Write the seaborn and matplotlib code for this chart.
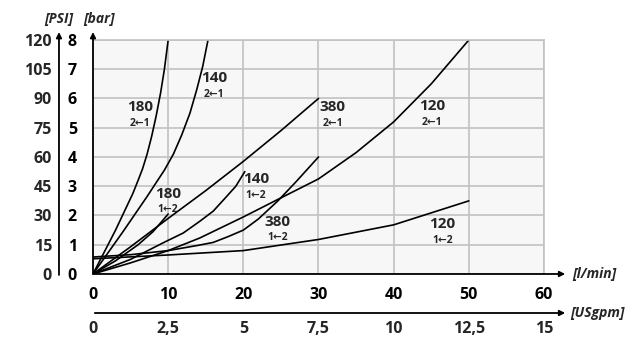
import numpy as np
import pandas as pd
import matplotlib
matplotlib.use('Agg')
import matplotlib.pyplot as plt
import seaborn as sns

sns.set_theme(style="white")
plt.rcParams['font.family'] = ['Open Sans', 'DejaVu Sans']

# ===============================
# Data (x in l/min, y in bar)
# ===============================
x_180_21 = [0, 3, 5.3, 6.0, 6.6, 7.2, 7.8, 8.4, 9.0, 9.5, 10]
y_180_21 = [0, 1.5, 2.75, 3.2, 3.6, 4.1, 4.7, 5.4, 6.2, 7.0, 8.0]

x_140_21 = [0, 4, 7.2, 8.6, 9.5, 10.7, 11.8, 12.9, 13.8, 14.6, 15.3]
y_140_21 = [0, 1.45, 2.65, 3.2, 3.55, 4.1, 4.75, 5.5, 6.3, 7.1, 8.0]

x_380_21 = [0, 5, 10, 15, 20, 25, 30]
y_380_21 = [0, 0.93, 1.9, 2.85, 3.85, 4.9, 6.0]

x_120_21 = [0, 5, 10, 14.2, 20, 24.6, 30, 35, 40, 45, 50]
y_120_21 = [0, 0.38, 0.8, 1.23, 1.95, 2.55, 3.25, 4.15, 5.2, 6.5, 8.0]

x_180_12 = [0, 3, 6, 8, 10]
y_180_12 = [0, 0.45, 1.0, 1.45, 2.05]

x_140_12 = [0, 5, 9.6, 12, 14.2, 16, 17.6, 19, 20.2]
y_140_12 = [0, 0.5, 1.1, 1.4, 1.8, 2.15, 2.6, 3.0, 3.5]

x_380_12 = [0, 5, 10, 14, 16, 18, 20, 22, 24.6, 27, 30]
y_380_12 = [0.58, 0.66, 0.8, 0.98, 1.08, 1.28, 1.5, 1.88, 2.5, 3.15, 4.0]

x_120_12 = [0, 10, 20, 30, 40, 50]
y_120_12 = [0.52, 0.65, 0.8, 1.18, 1.68, 2.5]

# curve labels
label_size = ['180', '140', '380', '120', '180', '140', '380', '120']
label_dir = ['2←1', '2←1', '2←1', '2←1', '1←2', '1←2', '1←2', '1←2']

x_ticks = [0, 10, 20, 30, 40, 50, 60]
bar_ticks = [0, 1, 2, 3, 4, 5, 6, 7, 8]
psi_ticks = [0, 15, 30, 45, 60, 75, 90, 105, 120]
gpm_ticks = [0, 2.5, 5, 7.5, 10, 12.5, 15]
gpm_labels = ['0', '2,5', '5', '7,5', '10', '12,5', '15']

# ===============================
# Build long table
# ===============================
series = [
    ('180 2←1', x_180_21, y_180_21), ('140 2←1', x_140_21, y_140_21),
    ('380 2←1', x_380_21, y_380_21), ('120 2←1', x_120_21, y_120_21),
    ('180 1←2', x_180_12, y_180_12), ('140 1←2', x_140_12, y_140_12),
    ('380 1←2', x_380_12, y_380_12), ('120 1←2', x_120_12, y_120_12),
]
df = pd.concat([pd.DataFrame({'curve': n, 'flow': xs, 'bar': ys}) for n, xs, ys in series],
               ignore_index=True)

# ===============================
# Plot
# ===============================
fig = plt.figure(figsize=(6.4, 3.59), dpi=100)
ax = fig.add_axes([0.1453, 0.2368, 0.7047, 0.6518])
ax.set_facecolor('#f7f7f7')

sns.lineplot(data=df, x='flow', y='bar', hue='curve', units='curve', estimator=None,
             sort=False, palette=['black'] * len(series), linewidth=1.2, legend=False, ax=ax)

ax.set_xlim(0, 60)
ax.set_ylim(0, 8)
ax.set_xticks(x_ticks)
ax.set_yticks(bar_ticks)
ax.set_xlabel('')
ax.set_ylabel('')
ax.grid(True, color='#c2c2c2', linewidth=1.2)
ax.set_axisbelow(True)
ax.tick_params(axis='both', which='major', direction='out', length=3.6, width=1.2,
               color='#c2c2c2', labelsize=11.5, labelcolor='black')
ax.tick_params(axis='x', pad=6)
ax.tick_params(axis='y', pad=8)
for lab in ax.get_xticklabels() + ax.get_yticklabels():
    lab.set_fontweight('bold')
for s in ['left', 'bottom']:
    ax.spines[s].set_visible(False)
for s in ['top', 'right']:
    ax.spines[s].set_color('#c2c2c2')
    ax.spines[s].set_linewidth(1.2)

# secondary PSI axis
psi_pos = -0.0754
sec_y = ax.secondary_yaxis(psi_pos, functions=(lambda b: b * 15, lambda p: p / 15))
sec_y.set_yticks(psi_ticks)
sec_y.tick_params(length=0, pad=5, labelsize=11.5)
for lab in sec_y.get_yticklabels():
    lab.set_fontweight('bold')
for sp in sec_y.spines.values():
    sp.set_visible(False)

# secondary USgpm axis
gpm_pos = -0.1667
sec_x = ax.secondary_xaxis(gpm_pos, functions=(lambda l: l / 4, lambda g: g * 4))
sec_x.set_xticks(gpm_ticks, labels=gpm_labels)
sec_x.tick_params(length=0, pad=6, labelsize=11.5)
for lab in sec_x.get_xticklabels():
    lab.set_fontweight('bold')
for sp in sec_x.spines.values():
    sp.set_visible(False)

# axis arrows
arrow = dict(arrowstyle='-|>', color='black', lw=1.3, mutation_scale=8, shrinkA=0, shrinkB=0)
for start, end in [((0, 0), (1.047, 0)), ((0, 0), (0, 1.034)),
                   ((psi_pos, -0.004), (psi_pos, 1.034)), ((0.004, gpm_pos), (1.047, gpm_pos))]:
    ax.annotate('', xy=end, xytext=start, xycoords='axes fraction',
                arrowprops=arrow, annotation_clip=False)

unit_kw = dict(transform=ax.transAxes, fontsize=10, fontweight='bold', fontstyle='italic',
               va='center', clip_on=False)
ax.text(1.062, 0, '[l/min]', ha='left', **unit_kw)
ax.text(1.058, gpm_pos, '[USgpm]', ha='left', **unit_kw)
ax.text(0.013, 1.09, '[bar]', ha='center', **unit_kw)
ax.text(psi_pos, 1.09, '[PSI]', ha='center', **unit_kw)

# curve labels
label_x = [6.25, 16.1, 31.9, 45.1, 10.0, 21.7, 24.6, 46.5]
label_y = [5.7, 6.7, 5.71, 5.73, 2.75, 3.24, 1.79, 1.70]
for name, d, lx, ly in zip(label_size, label_dir, label_x, label_y):
    ax.text(lx, ly, name, ha='center', va='center', fontsize=11, fontweight='bold')
    ax.text(lx, ly - 0.55, d, ha='center', va='center', fontsize=7.5, fontweight='bold')

fig.savefig('out.png', dpi=100)
